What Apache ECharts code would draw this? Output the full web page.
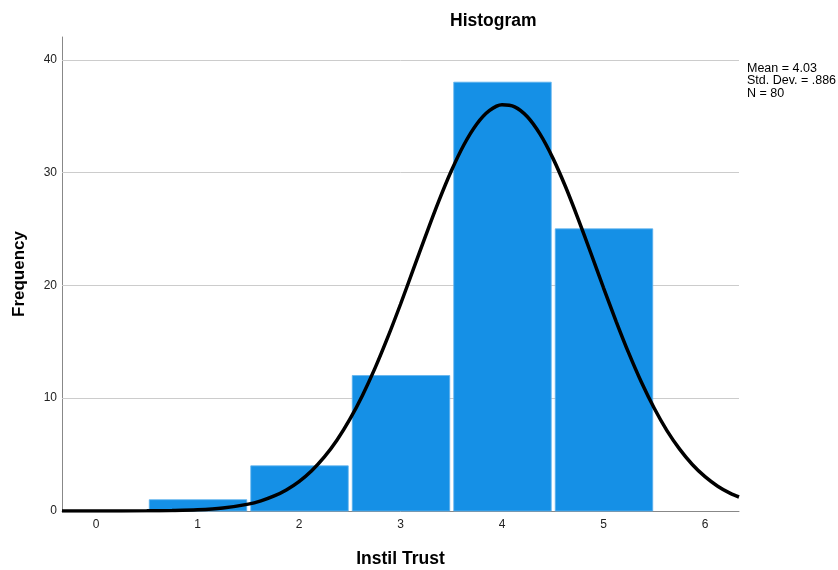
<!DOCTYPE html>
<html><head><meta charset="utf-8">
<script src="https://cdn.jsdelivr.net/npm/echarts@6/dist/echarts.min.js"></script>
<style>html,body{margin:0;padding:0;background:#fff}#c{width:838px;height:570px}</style>
</head><body><div id="c"></div>
<script>
// Histogram bins (centers) and frequencies
const binCenters = [1, 2, 3, 4, 5];
const frequencies = [1, 4, 12, 38, 25];
// Normal curve (x, frequency)
const curveX = [-0.335, 0, 0.5, 0.75, 1, 1.25, 1.5, 1.625, 1.75, 1.875, 2, 2.125, 2.25, 2.375, 2.5, 2.625, 2.75, 2.875, 3, 3.125, 3.25, 3.375, 3.5, 3.625, 3.75, 3.875, 4, 4.125, 4.25, 4.375, 4.5, 4.625, 4.75, 4.875, 5, 5.125, 5.25, 5.375, 5.5, 5.625, 5.75, 5.875, 6, 6.125, 6.25, 6.335];
const curveY = [0, 0.001, 0.013, 0.04, 0.1, 0.26, 0.61, 0.90, 1.31, 1.87, 2.61, 3.57, 4.79, 6.29, 8.11, 10.24, 12.68, 15.40, 18.32, 21.38, 24.45, 27.41, 30.12, 32.45, 34.27, 35.47, 36.0, 35.81, 34.93, 33.39, 31.29, 28.75, 25.89, 22.86, 19.78, 16.79, 13.96, 11.38, 9.10, 7.12, 5.48, 4.12, 3.04, 2.20, 1.56, 1.24];
const xTicks = [0, 1, 2, 3, 4, 5, 6];
const yTicks = [0, 10, 20, 30, 40];
const statsLines = ['Mean = 4.03', 'Std. Dev. = .886', 'N = 80'];

const font = 'Arial, "Liberation Sans", sans-serif';
const chart = echarts.init(document.getElementById('c'), null, {renderer: 'canvas'});
chart.setOption({
  animation: false,
  backgroundColor: '#fff',
  title: {
    text: 'Histogram', left: 445, top: 7,
    textStyle: {fontFamily: font, fontSize: 17.5, fontWeight: 'bold', color: '#000'}
  },
  graphic: [{
    type: 'text', left: 747, top: 62,
    style: {text: statsLines.join('\n'), font: '12.5px ' + font, fill: '#000', lineHeight: 12.5}
  }],
  grid: {left: 62, right: 99, top: 37, bottom: 59, outerBoundsMode: 'none', containLabel: false},
  xAxis: {
    type: 'value', min: -0.335, max: 6.335,
    name: 'Instil Trust', nameLocation: 'middle', nameGap: 39,
    nameTextStyle: {fontFamily: font, fontSize: 17.5, fontWeight: 'bold', color: '#000'},
    axisLine: {show: true, onZero: false, lineStyle: {color: '#888', width: 1}},
    axisTick: {show: false},
    splitLine: {show: false},
    axisLabel: {customValues: xTicks, fontFamily: font, fontSize: 12, color: '#222', margin: 8}
  },
  yAxis: {
    type: 'value', min: 0, max: 42,
    name: 'Frequency', nameLocation: 'middle', nameGap: 34, nameRotate: 90,
    nameTextStyle: {fontFamily: font, fontSize: 17, fontWeight: 'bold', color: '#000'},
    axisLine: {show: true, onZero: false, lineStyle: {color: '#888', width: 1}},
    axisTick: {show: false},
    axisLabel: {customValues: yTicks, fontFamily: font, fontSize: 12, color: '#222', margin: 5},
    splitLine: {show: false}
  },
  series: [
    {
      type: 'custom',
      data: yTicks.filter(v => v > 0).map(v => [v]),
      renderItem: function (params, api) {
        const y = api.value(0);
        const p1 = api.coord([-0.335, y]);
        const p2 = api.coord([6.335, y]);
        return {type: 'line', shape: {x1: p1[0], y1: Math.round(p1[1]) + 0.5, x2: p2[0], y2: Math.round(p2[1]) + 0.5},
          style: {stroke: '#cccccc', lineWidth: 1}};
      },
      z: 1
    },
    {
      type: 'custom',
      data: binCenters.map((c, i) => [c, frequencies[i]]),
      renderItem: function (params, api) {
        const c = api.value(0), f = api.value(1);
        const tl = api.coord([c - 0.5, f]);
        const br = api.coord([c + 0.5, 0]);
        return {type: 'rect',
          shape: {x: tl[0] + 2.5, y: tl[1], width: br[0] - tl[0] - 4, height: br[1] - tl[1]},
          style: {fill: '#1590e6', stroke: '#5fb3ee', lineWidth: 0.8}};
      },
      z: 2
    },
    {
      type: 'line',
      data: curveX.map((x, i) => [x, curveY[i]]),
      smooth: 0.3, showSymbol: false,
      lineStyle: {color: '#000', width: 3.5},
      clip: true,
      z: 3
    }
  ]
});
</script>
</body></html>
